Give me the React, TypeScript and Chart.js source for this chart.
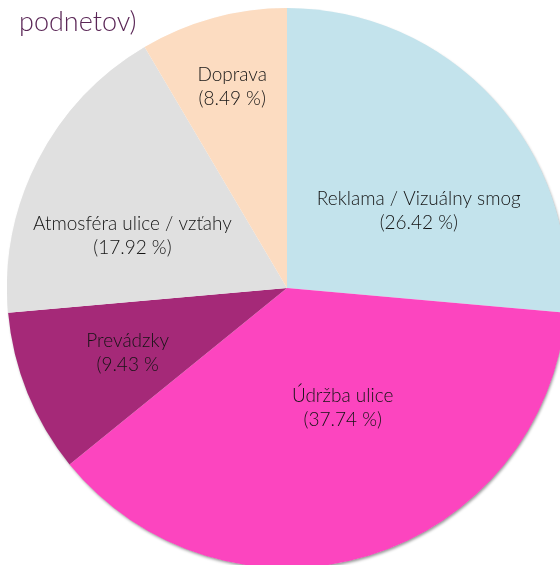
import React, { useEffect, useRef } from "react";
import { Chart, registerables } from "chart.js";

Chart.register(...registerables);

const categories = ["Reklama / Vizuálny smog", "Údržba ulice", "Prevádzky", "Atmosféra ulice / vzťahy", "Doprava"];
const counts = [28, 40, 10, 19, 9];
const percentLabels = ["(26.42 %)", "(37.74 %)", "(9.43 %", "(17.92 %)", "(8.49 %)"];
const titleText = "podnetov)";

const colors = ["#c3e3ec", "#fc45bf", "#a52978", "#e0e0e0", "#fcdcc1"];
// label placement relative to each slice: [fraction of radius, angle shift in degrees]
const labelPlacement: [number, number][] = [
  [0.546, 12],
  [0.471, -8],
  [0.614, 0],
  [0.582, -8.7],
  [0.743, 0],
];

const FONT = "Lato, 'Open Sans', sans-serif";

const shadowPlugin = {
  id: "shadowPlugin",
  beforeDatasetsDraw(chart: any) {
    const ctx = chart.ctx;
    const arc = chart.getDatasetMeta(0).data[0];
    if (!arc) return;
    const p = arc.getProps(["x", "y", "outerRadius"], true);
    ctx.save();
    ctx.shadowColor = "rgba(0,0,0,0.4)";
    ctx.shadowBlur = 3;
    ctx.shadowOffsetX = 1;
    ctx.shadowOffsetY = 2;
    ctx.fillStyle = "#ffffff";
    ctx.beginPath();
    ctx.arc(p.x, p.y, p.outerRadius - 0.5, 0, Math.PI * 2);
    ctx.fill();
    ctx.restore();
  },
};

const labelPlugin = {
  id: "labelPlugin",
  afterDraw(chart: any) {
    const ctx = chart.ctx;
    const meta = chart.getDatasetMeta(0);
    ctx.save();
    ctx.fillStyle = "#141414";
    ctx.font = `300 19px ${FONT}`;
    ctx.textAlign = "center";
    ctx.textBaseline = "middle";
    meta.data.forEach((arc: any, i: number) => {
      const p = arc.getProps(["x", "y", "startAngle", "endAngle", "outerRadius"], true);
      const [frac, shift] = labelPlacement[i];
      const mid = (p.startAngle + p.endAngle) / 2 + (shift * Math.PI) / 180;
      const r = p.outerRadius * frac;
      const cx = p.x + Math.cos(mid) * r;
      const cy = p.y + Math.sin(mid) * r;
      ctx.fillText(categories[i], cx, cy - 12);
      ctx.fillText(percentLabels[i], cx, cy + 12);
    });
    // title (last visible line)
    ctx.fillStyle = "#5a2656";
    ctx.font = `300 27px ${FONT}`;
    ctx.textAlign = "left";
    ctx.textBaseline = "alphabetic";
    ctx.fillText(titleText, 12, 23);
    ctx.restore();
  },
};

export default function App() {
  const ref = useRef<HTMLCanvasElement>(null);
  useEffect(() => {
    if (!ref.current) return;
    const chart = new Chart(ref.current, {
      type: "pie",
      data: {
        labels: categories,
        datasets: [
          {
            data: counts,
            backgroundColor: colors,
            borderWidth: 0,
          },
        ],
      },
      options: {
        animation: false,
        responsive: false,
        devicePixelRatio: 1,
        layout: { padding: 0 },
        plugins: {
          legend: { display: false },
          tooltip: { enabled: false },
          title: { display: false },
        },
      },
      plugins: [shadowPlugin, labelPlugin],
    });
    return () => chart.destroy();
  }, []);
  return (
    <div
      style={{
        position: "fixed",
        left: 0,
        top: 0,
        width: 560,
        height: 565,
        overflow: "hidden",
        background: "#ffffff",
      }}
    >
      <canvas
        ref={ref}
        width={560}
        height={560}
        style={{ position: "absolute", left: 7, top: 8, width: 560, height: 560 }}
      />
    </div>
  );
}
